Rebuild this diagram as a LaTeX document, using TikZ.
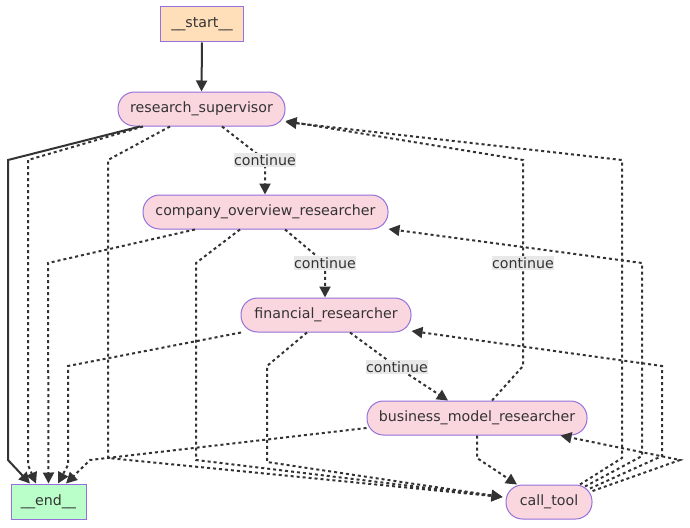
\documentclass[tikz,border=0pt]{standalone}
\usepackage{fontspec}
\setmainfont{DejaVu Sans}
\usetikzlibrary{arrows.meta}
\definecolor{edgec}{HTML}{333333}
\definecolor{nodefill}{HTML}{FAD7DE}
\definecolor{startfill}{HTML}{FFDFBA}
\definecolor{endfill}{HTML}{BAFFC9}
\definecolor{nodestroke}{HTML}{9370DB}
\definecolor{lblfill}{HTML}{E8E8E8}
\tikzset{
  x=1pt, y=-1pt,
  every node/.style={font=\fontsize{14.2}{17}\selectfont, text=edgec},
  gnode/.style={draw=nodestroke, line width=1pt, fill=nodefill, rounded corners=16.5pt, minimum height=34pt, inner sep=0pt},
  sqnode/.style={draw=nodestroke, line width=1pt, minimum height=35pt, inner sep=0pt},
  solidedge/.style={draw=edgec, line width=2pt, -{Triangle[length=11pt,width=11pt]}},
  dotedge/.style={draw=edgec, line width=2pt, dash pattern=on 3pt off 3pt, -{Triangle[length=11pt,width=11pt]}},
  lbl/.style={fill=lblfill, inner xsep=0.5pt, inner ysep=1.5pt}
}
\begin{document}
\begin{tikzpicture}
\fill[white] (0,0) rectangle (690,527);
\useasboundingbox (0,0) rectangle (690,527);

\node[sqnode, fill=startfill, minimum width=83pt] (start) at (202,24.5) {\_\_start\_\_};
\node[gnode, minimum width=167pt] (rs) at (201.5,109) {research\_supervisor};
\node[gnode, minimum width=245pt] (co) at (265.5,212) {company\_overview\_researcher};
\node[gnode, minimum width=170pt] (fr) at (326,315) {financial\_researcher};
\node[gnode, minimum width=220pt] (bm) at (477,418) {business\_model\_researcher};
\node[gnode, minimum width=86pt] (ct) at (549,502) {call\_tool};
\node[sqnode, fill=endfill, minimum width=75pt] (end) at (48.5,501.5) {\_\_end\_\_};

% start -> research_supervisor
\draw[solidedge] (start.south) -- (rs.north);

% research_supervisor edges
\draw[solidedge] ([xshift=-61.5pt]rs.south) -- (8,160) -- (8,460) -- ([xshift=-18.5pt]end.north);
\draw[dotedge] ([xshift=-58.5pt]rs.south) -- (28,160) -- (28,465) -- ([xshift=-12.5pt]end.north);
\draw[dotedge] ([xshift=-31.5pt]rs.south) -- (108,160) -- (108,458) -- ([xshift=-3pt,yshift=5pt]ct.west);
\draw[dotedge] ([xshift=20.5pt]rs.south) -- (265,160) node[lbl] {continue} -- (co.north -| 265,0);

% company_overview edges
\draw[dotedge] ([xshift=-70.5pt]co.south) -- (48,263) -- (end.north);
\draw[dotedge] ([xshift=-25.5pt]co.south) -- (196,263) -- (196,460) -- ([xshift=-3pt,yshift=5pt]ct.west);
\draw[dotedge] ([xshift=19.5pt]co.south) -- (325,263) node[lbl] {continue} -- (fr.north -| 325,0);

% financial edges
\draw[dotedge] ([xshift=-85pt]fr.south) -- (68,366) -- (68,465) -- ([xshift=9.5pt]end.north);
\draw[dotedge] ([xshift=-19pt]fr.south) -- (267,366) -- (267,462) -- ([xshift=-3pt,yshift=5pt]ct.west);
\draw[dotedge] ([xshift=24pt]fr.south) -- (397,367) node[lbl] {continue} -- ([xshift=-29pt]bm.north);

% business_model edges
\draw[dotedge] ([yshift=-10pt]bm.west) -- (90,460) -- ([xshift=17.5pt]end.north);
\draw[dotedge] (bm.south) -- (477,458) -- ([xshift=-32pt]ct.north);
\draw[dotedge] ([xshift=15pt]bm.north) -- (523,366) -- (523,263) node[lbl] {continue} -- (523,160) -- ([yshift=-12pt]rs.east);

% call_tool edges
\draw[dotedge] ([xshift=31pt]ct.north) -- (622,458) -- (622,160) -- ([yshift=-13pt]rs.east);
\draw[dotedge] ([xshift=36pt,yshift=-2pt]ct.north) -- (642,456) -- (642,263) -- ([yshift=-17pt]co.east);
\draw[dotedge] ([xshift=41pt,yshift=-4pt]ct.north) -- (662,456) -- (662,366) -- ([yshift=-16pt]fr.east);
\draw[dotedge] ([yshift=11pt]ct.east) -- (680,460) -- ([xshift=-27pt]bm.south east);
\end{tikzpicture}
\end{document}
